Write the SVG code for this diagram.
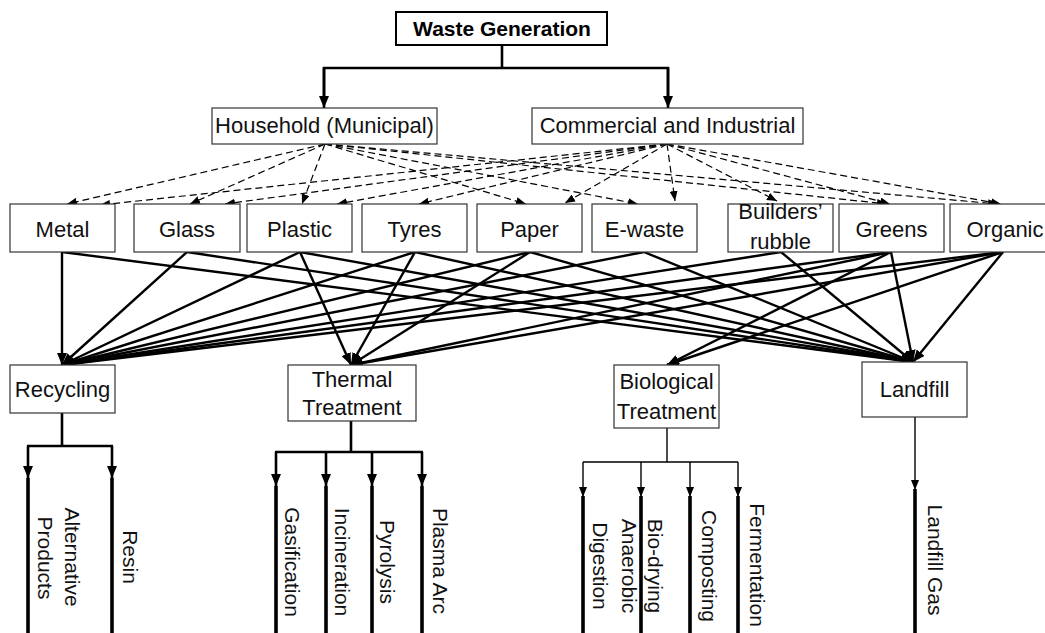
<svg xmlns="http://www.w3.org/2000/svg" width="1045" height="633" viewBox="0 0 1045 633">
  <style>
    .box { fill: #fff; stroke: #333; stroke-width: 1.2; }
    .boxb { fill: #fff; stroke: #000; stroke-width: 2; }
    .lbl { font-family: "Liberation Sans", Arial, sans-serif; font-size: 22px; fill: #111; text-anchor: middle; }
    .ttl { font-family: "Liberation Sans", Arial, sans-serif; font-size: 21px; font-weight: bold; fill: #000; text-anchor: middle; }
    .vlbl { font-family: "Liberation Sans", Arial, sans-serif; font-size: 21px; fill: #111; text-anchor: middle; }
    .thick { fill: none; stroke: #000; stroke-width: 2.6; }
    .solid { fill: none; stroke: #000; stroke-width: 2.4; marker-end: url(#ah); }
    .dash { fill: none; stroke: #000; stroke-width: 1.2; stroke-dasharray: 7 4; marker-end: url(#ahd); }
    .thin { fill: none; stroke: #000; stroke-width: 1.4; }
    .bar { fill: none; stroke: #000; stroke-width: 3.6; }
  </style>
  <defs>
    <marker id="ah" viewBox="0 0 12 10" refX="12" refY="5" markerWidth="12" markerHeight="10" markerUnits="userSpaceOnUse" orient="auto">
      <path d="M0,0 L12,5 L0,10 z" fill="#000"/>
    </marker>
    <marker id="ahd" viewBox="0 0 10 8" refX="10" refY="4" markerWidth="10" markerHeight="8" markerUnits="userSpaceOnUse" orient="auto">
      <path d="M0,0 L10,4 L0,8 z" fill="#000"/>
    </marker>
    <marker id="ahs" viewBox="0 0 10 8" refX="10" refY="4" markerWidth="10" markerHeight="8" markerUnits="userSpaceOnUse" orient="auto">
      <path d="M0,0 L10,4 L0,8 z" fill="#000"/>
    </marker>
  </defs>

  <!-- connectors -->
  <g id="connectors">
    <!-- source split -->
    <path class="thick" d="M502,46 V68 H324 V96 M502,68 H668 V96"/>
    <path class="thick" d="M324,68 V108" marker-end="url(#ah)"/>
    <path class="thick" d="M668,68 V108" marker-end="url(#ah)"/>

    <!-- household / commercial to waste streams -->
    <g>
      <line class="dash" x1="325" y1="144" x2="67" y2="204"/>
      <line class="dash" x1="667" y1="144" x2="100" y2="205"/>
      <line class="dash" x1="325" y1="144" x2="190" y2="204"/>
      <line class="dash" x1="667" y1="144" x2="225" y2="204"/>
      <line class="dash" x1="325" y1="144" x2="302" y2="204"/>
      <line class="dash" x1="667" y1="144" x2="337" y2="204"/>
      <line class="dash" x1="667" y1="144" x2="419" y2="204"/>
      <line class="dash" x1="325" y1="144" x2="526" y2="204"/>
      <line class="dash" x1="667" y1="144" x2="565" y2="203"/>
      <line class="dash" x1="325" y1="144" x2="638" y2="204"/>
      <line class="dash" x1="667" y1="144" x2="675" y2="201"/>
      <line class="dash" x1="667" y1="144" x2="777" y2="201"/>
      <line class="dash" x1="325" y1="144" x2="887" y2="204"/>
      <line class="dash" x1="667" y1="144" x2="890" y2="204"/>
      <line class="dash" x1="325" y1="144" x2="998" y2="204"/>
      <line class="dash" x1="667" y1="144" x2="1001" y2="204"/>
    </g>

    <!-- waste streams to treatment routes -->
    <g>
      <line class="solid" x1="62" y1="252" x2="62" y2="365"/>
      <line class="solid" x1="62" y1="252" x2="913" y2="362"/>
      <line class="solid" x1="187" y1="252" x2="62" y2="365"/>
      <line class="solid" x1="187" y1="252" x2="913" y2="362"/>
      <line class="solid" x1="300" y1="252" x2="62" y2="365"/>
      <line class="solid" x1="300" y1="252" x2="351" y2="365"/>
      <line class="solid" x1="300" y1="252" x2="913" y2="362"/>
      <line class="solid" x1="415" y1="252" x2="62" y2="365"/>
      <line class="solid" x1="415" y1="252" x2="351" y2="365"/>
      <line class="solid" x1="415" y1="252" x2="913" y2="362"/>
      <line class="solid" x1="530" y1="252" x2="62" y2="365"/>
      <line class="solid" x1="530" y1="252" x2="351" y2="365"/>
      <line class="solid" x1="530" y1="252" x2="913" y2="362"/>
      <line class="solid" x1="644" y1="252" x2="62" y2="365"/>
      <line class="solid" x1="644" y1="252" x2="913" y2="362"/>
      <line class="solid" x1="781" y1="252" x2="62" y2="365"/>
      <line class="solid" x1="781" y1="252" x2="913" y2="362"/>
      <line class="solid" x1="891" y1="252" x2="62" y2="365"/>
      <line class="solid" x1="891" y1="252" x2="351" y2="365"/>
      <line class="solid" x1="891" y1="252" x2="667" y2="365"/>
      <line class="solid" x1="891" y1="252" x2="913" y2="362"/>
      <line class="solid" x1="1003" y1="252" x2="62" y2="365"/>
      <line class="solid" x1="1003" y1="252" x2="351" y2="365"/>
      <line class="solid" x1="1003" y1="252" x2="667" y2="365"/>
      <line class="solid" x1="1003" y1="252" x2="913" y2="362"/>
    </g>

    <!-- recycling outputs -->
    <path class="thick" d="M62,413 V446 M27,446 H113"/>
    <path class="thick" d="M28,446 V478" marker-end="url(#ah)"/>
    <path class="thick" d="M112,446 V478" marker-end="url(#ah)"/>
    <!-- thermal outputs -->
    <path class="thick" d="M351,421 V452 M275,452 H423"/>
    <path class="thick" d="M276,452 V486" marker-end="url(#ah)"/>
    <path class="thick" d="M326,452 V486" marker-end="url(#ah)"/>
    <path class="thick" d="M372,452 V486" marker-end="url(#ah)"/>
    <path class="thick" d="M422,452 V486" marker-end="url(#ah)"/>
    <!-- biological outputs -->
    <path class="thin" d="M667,428 V462 M583,462 H738"/>
    <path class="thin" d="M583,462 V497" marker-end="url(#ahs)"/>
    <path class="thin" d="M641,462 V497" marker-end="url(#ahs)"/>
    <path class="thin" d="M690,462 V497" marker-end="url(#ahs)"/>
    <path class="thin" d="M738,462 V497" marker-end="url(#ahs)"/>
    <!-- landfill output -->
    <path class="thin" d="M915,417 V490" marker-end="url(#ahs)"/>

    <!-- product bars -->
    <path class="bar" d="M28,478 V633 M112,478 V633 M276,486 V633 M326,486 V633 M372,486 V633 M422,486 V633 M583,496 V633 M641,496 V633 M690,496 V633 M738,496 V633 M915,489 V633"/>
  </g>

  <!-- top node -->
  <g id="waste-generation">
    <rect class="boxb" x="396" y="12" width="211" height="33"/>
    <text class="ttl" x="502" y="36">Waste Generation</text>
  </g>

  <!-- sources -->
  <g id="household">
    <rect class="box" x="212" y="108" width="225" height="36"/>
    <text class="lbl" x="324.5" y="133">Household (Municipal)</text>
  </g>
  <g id="commercial">
    <rect class="box" x="532" y="108" width="271" height="36"/>
    <text class="lbl" x="667.5" y="133">Commercial and Industrial</text>
  </g>

  <!-- waste streams -->
  <g id="metal">
    <rect class="box" x="10" y="204" width="105" height="48"/>
    <text class="lbl" x="62.5" y="237">Metal</text>
  </g>
  <g id="glass">
    <rect class="box" x="134" y="204" width="106" height="48"/>
    <text class="lbl" x="187" y="237">Glass</text>
  </g>
  <g id="plastic">
    <rect class="box" x="247" y="204" width="105" height="48"/>
    <text class="lbl" x="299.5" y="237">Plastic</text>
  </g>
  <g id="tyres">
    <rect class="box" x="362" y="204" width="105" height="48"/>
    <text class="lbl" x="414.5" y="237">Tyres</text>
  </g>
  <g id="paper">
    <rect class="box" x="477" y="204" width="105" height="48"/>
    <text class="lbl" x="529.5" y="237">Paper</text>
  </g>
  <g id="e-waste">
    <rect class="box" x="592" y="204" width="105" height="48"/>
    <text class="lbl" x="644.5" y="237">E-waste</text>
  </g>
  <g id="builders-rubble">
    <rect class="box" x="728" y="204" width="105" height="48"/>
    <text class="lbl" x="780.5" y="219">Builders’</text>
    <text class="lbl" x="780.5" y="249">rubble</text>
  </g>
  <g id="greens">
    <rect class="box" x="839" y="204" width="105" height="48"/>
    <text class="lbl" x="891.5" y="237">Greens</text>
  </g>
  <g id="organic">
    <rect class="box" x="950" y="204" width="106" height="48"/>
    <text class="lbl" x="1005" y="237">Organic</text>
  </g>

  <!-- treatment routes -->
  <g id="recycling">
    <rect class="box" x="10" y="365" width="105" height="48"/>
    <text class="lbl" x="62.5" y="397">Recycling</text>
  </g>
  <g id="thermal-treatment">
    <rect class="box" x="288" y="365" width="128" height="56"/>
    <text class="lbl" x="352" y="387">Thermal</text>
    <text class="lbl" x="352" y="415">Treatment</text>
  </g>
  <g id="biological-treatment">
    <rect class="box" x="614" y="365" width="105" height="63"/>
    <text class="lbl" x="666.5" y="389">Biological</text>
    <text class="lbl" x="666.5" y="419">Treatment</text>
  </g>
  <g id="landfill">
    <rect class="box" x="862" y="362" width="105" height="55"/>
    <text class="lbl" x="914.5" y="397">Landfill</text>
  </g>

  <!-- products -->
  <g id="alternative-products">
    <text class="vlbl" transform="translate(65,557) rotate(90)">Alternative</text>
    <text class="vlbl" transform="translate(38,558) rotate(90)">Products</text>
  </g>
  <g id="resin">
    <text class="vlbl" transform="translate(123,557) rotate(90)">Resin</text>
  </g>
  <g id="gasification">
    <text class="vlbl" transform="translate(285,562) rotate(90)">Gasification</text>
  </g>
  <g id="incineration">
    <text class="vlbl" transform="translate(335,562) rotate(90)">Incineration</text>
  </g>
  <g id="pyrolysis">
    <text class="vlbl" transform="translate(380,562) rotate(90)">Pyrolysis</text>
  </g>
  <g id="plasma-arc">
    <text class="vlbl" transform="translate(433,561) rotate(90)">Plasma Arc</text>
  </g>
  <g id="anaerobic-digestion">
    <text class="vlbl" transform="translate(622,566) rotate(90)">Anaerobic</text>
    <text class="vlbl" transform="translate(593,566) rotate(90)">Digestion</text>
  </g>
  <g id="bio-drying">
    <text class="vlbl" transform="translate(648,566) rotate(90)">Bio-drying</text>
  </g>
  <g id="composting">
    <text class="vlbl" transform="translate(702,566) rotate(90)">Composting</text>
  </g>
  <g id="fermentation">
    <text class="vlbl" transform="translate(750,565) rotate(90)">Fermentation</text>
  </g>
  <g id="landfill-gas">
    <text class="vlbl" transform="translate(928,560) rotate(90)">Landfill Gas</text>
  </g>
</svg>
